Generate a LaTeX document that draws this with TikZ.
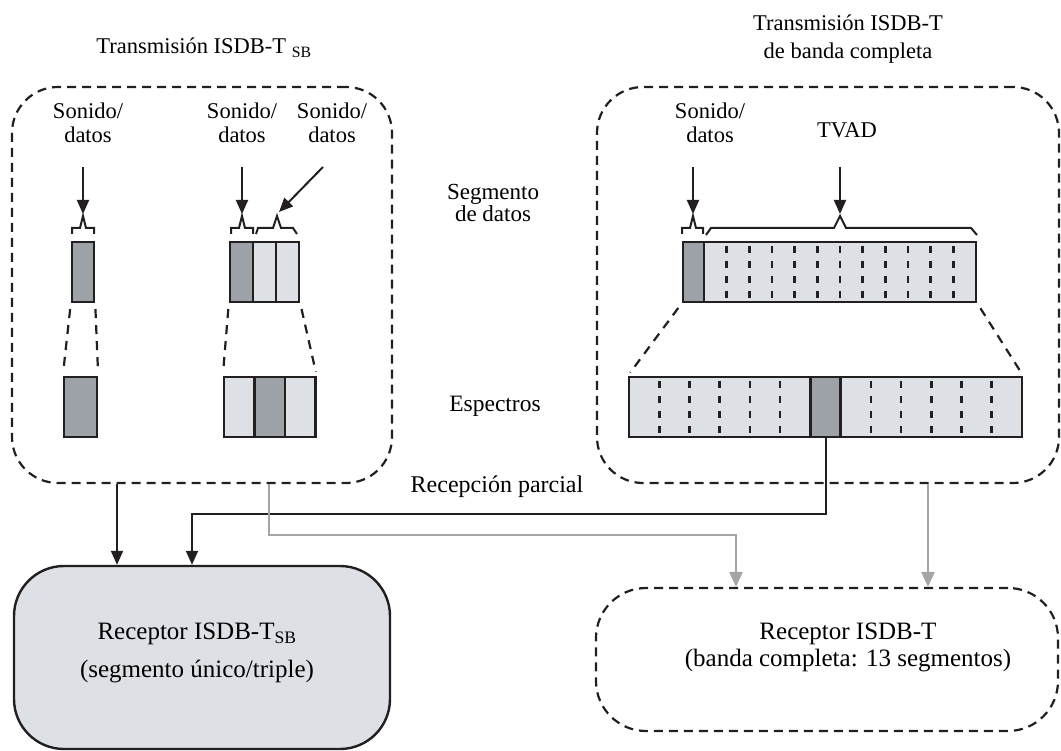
\documentclass[tikz,border=0pt]{standalone}
\usepackage{fontspec}
\setmainfont{Liberation Serif}
\usetikzlibrary{arrows.meta}
\definecolor{segdark}{HTML}{9DA2A9}
\definecolor{seglight}{HTML}{DDE0E5}
\definecolor{ink}{HTML}{231F20}
\definecolor{greyline}{HTML}{A5A5A5}
\tikzset{
  txbox/.style={draw=ink, line width=2.2pt, dash pattern=on 9pt off 6pt,
    rounded corners=46pt, minimum height=396pt, inner sep=0pt},
  rxbox/.style={draw=ink, line width=2.2pt, rounded corners=50pt, inner sep=0pt},
  segd/.style={draw=ink, line width=2.4pt, fill=segdark, inner sep=0pt, minimum height=60pt},
  segl/.style={segd, fill=seglight},
  divider/.style={ink, line width=2.6pt, dash pattern=on 7pt off 8pt},
  zoomline/.style={ink, line width=2.2pt, dash pattern=on 9pt off 7pt,
    shorten <=6pt, shorten >=4pt},
  brace/.style={ink, line width=2pt},
  arr/.style={ink, line width=2pt, -{Triangle[length=14pt,width=12pt]}},
  garr/.style={greyline, line width=2.2pt, -{Triangle[length=15pt,width=13pt]}},
  lbl/.style={align=center, inner sep=0pt, font=\fontsize{22.5}{24}\selectfont},
  rxlbl/.style={align=center, inner sep=0pt, font=\fontsize{25}{27}\selectfont}
}

\begin{document}
\begin{tikzpicture}[x=1pt, y=-1pt]
  \useasboundingbox (0,0) rectangle (1061,751);

  % transmission boxes
  \node[txbox, minimum width=380pt] (tsb) at (202,285) {};
  \node[txbox, minimum width=462pt] (tfull) at (828,285) {};

  % titles
  \node[lbl, anchor=base] (tsbtitle) at (204,54) {Transmisión ISDB-T \textsubscript{SB}};
  \node[lbl, font=\fontsize{22.5}{28}\selectfont] (tfulltitle) at (848,39)
    {Transmisión ISDB-T\\de banda completa};

  % ISDB-T_SB segments
  \node[segd, minimum width=22pt] (la) at (83,272) {};
  \node[segd, minimum width=33pt] (lb) at (80.5,407) {};
  \node[segd, minimum width=23pt] (ma1) at (241.5,272) {};
  \node[segl, minimum width=23pt] (ma2) at (264.5,272) {};
  \node[segl, minimum width=23pt] (ma3) at (287.5,272) {};
  \node[segl, minimum width=30.5pt] (mb1) at (239.25,407) {};
  \node[segd, minimum width=30.5pt] (mb2) at (269.75,407) {};
  \node[segl, minimum width=30.5pt] (mb3) at (300.25,407) {};

  % full band segments
  \node[segd, minimum width=21pt] (ra1) at (693.5,272) {};
  \node[segl, minimum width=272pt] (ra2) at (840,272) {};
  \node[segl, minimum width=181.4pt] (rb1) at (719.7,407) {};
  \node[segd, minimum width=30.2pt] (rd) at (825.5,407) {};
  \node[segl, minimum width=181.4pt] (rb2) at (931.3,407) {};
  \foreach \i in {1,...,11}
    \draw[divider] ({704+22.667*\i},246) -- ++(0,54);
  \foreach \i in {1,...,5} {
    \draw[divider] ({629+30.23*\i},381) -- ++(0,54);
    \draw[divider] ({840.6+30.23*\i},381) -- ++(0,54);
  }

  % dashed zoom lines
  \draw[zoomline] (la.south west) -- (lb.north west);
  \draw[zoomline] (la.south east) -- (lb.north east);
  \draw[zoomline] (ma1.south west) -- (mb1.north west);
  \draw[zoomline] (ma3.south east) -- (mb3.north east);
  \draw[zoomline] (ra1.south west) -- (rb1.north west);
  \draw[zoomline] (ra2.south east) -- (rb2.north east);

  % braces
  \draw[brace] (72,234) -- (72,228) -- (80,228) -- (83,216) -- (86,228) -- (94,228) -- (94,234);
  \draw[brace] (231,234) -- (231,228) -- (239,228) -- (242,216) -- (245,228) -- (253,228) -- (253,234);
  \draw[brace] (256,234) -- (258,228) -- (273,228) -- (277,216) -- (281,228) -- (293,228) -- (297,234);
  \draw[brace] (682,234) -- (682,228) -- (690,228) -- (693,216) -- (696,228) -- (703,228) -- (703,234);
  \draw[brace] (706,235) -- (711,228) -- (834,228) -- (840,216) -- (846,228) -- (971,228) -- (977,235);

  % labels
  \node[lbl] (sda) at (88,122.5) {Sonido/\\datos};
  \node[lbl] (sdb) at (242,122.5) {Sonido/\\datos};
  \node[lbl] (sdc) at (332,122.5) {Sonido/\\datos};
  \node[lbl] (sdd) at (710,122.5) {Sonido/\\datos};
  \node[lbl] (tvad) at (847,130.5) {TVAD};
  \node[lbl, font=\fontsize{23}{22}\selectfont] (segdat) at (493,203) {Segmento\\de datos};
  \node[lbl, font=\fontsize{23.5}{26}\selectfont] (espec) at (495,406) {Espectros};
  \node[lbl, font=\fontsize{24}{26}\selectfont] (parcial) at (497,487) {Recepción parcial};

  % inputs
  \coordinate (ia) at (83,167);
  \coordinate (ib) at (242,167);
  \coordinate (ic) at (323,167);
  \coordinate (id) at (693,167);
  \coordinate (ie) at (840,167);
  \draw[arr] (ia) -- (83,214);
  \draw[arr] (ib) -- (242,214);
  \draw[arr] (ic) -- (279,212);
  \draw[arr] (id) -- (693,214);
  \draw[arr] (ie) -- (840,214);

  % receivers
  \node[rxbox, fill=seglight, line width=2.4pt, minimum width=376pt, minimum height=183pt] (rsb) at (202,657.5) {};
  \node[rxbox, dash pattern=on 9pt off 6pt, minimum width=462pt, minimum height=143pt] (rfull) at (827,659.5) {};
  \node[rxlbl] (rsblbl) at (197,653) {Receptor ISDB-T\textsubscript{SB}\\[11pt](segmento único/triple)};
  \node[rxlbl] (rfulllbl) at (848,647.5) {Receptor ISDB-T\\(banda completa: 13 segmentos)};

  % connectors
  \draw[arr] ([xshift=-85pt]tsb.south) -- ([xshift=-85pt]rsb.north);
  \draw[arr] (rd.south) -- ++(0,76) -| ([xshift=-10pt]rsb.north);
  \draw[garr] ([xshift=67pt]tsb.south) -- ++(0,51) -| ([xshift=-91pt]rfull.north);
  \draw[garr] ([xshift=100pt]tfull.south) -- ([xshift=101pt]rfull.north);
\end{tikzpicture}
\end{document}
